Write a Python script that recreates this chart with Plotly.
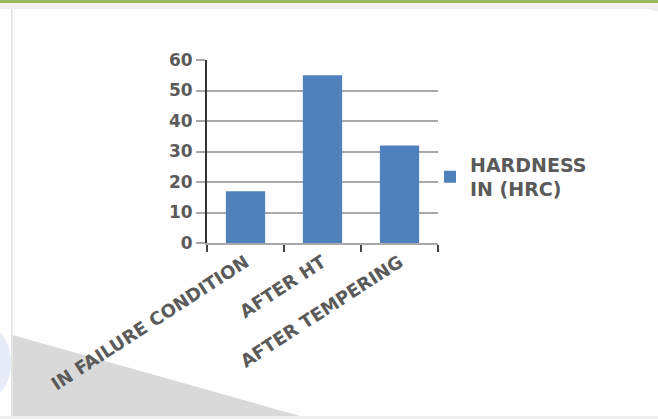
import plotly.graph_objects as go

categories = ["IN FAILURE CONDITION", "AFTER HT", "AFTER TEMPERING"]
hardness = [17, 55, 32]
series_name = "HARDNESS<br>IN (HRC)"
y_ticks = [0, 10, 20, 30, 40, 50, 60]

W, H = 658, 419
L, R, T, B = 207, 438, 60, 243

def px(x):
    return (x - L) / (R - L)

def py(y):
    return (B - y) / (B - T)

fig = go.Figure()
fig.add_trace(go.Bar(
    x=categories, y=hardness, name=series_name,
    marker=dict(color="#4f81bd", line=dict(width=0)),
    showlegend=True,
))

shapes = []
def rect(x0, y0, x1, y1, color):
    shapes.append(dict(type="rect", xref="paper", yref="paper",
                       x0=px(x0), x1=px(x1), y0=py(y0), y1=py(y1),
                       fillcolor=color, line=dict(width=0), layer="below"))

# page decoration
rect(0, 0, W, 3, "#9bbb59")
rect(0, 3, W, 9, "#efefef")
rect(652, 9, W, 11, "#efefef")
rect(11, 9, 12.5, H, "#e2e2e2")
rect(0, 416, W, H, "#eeeeee")
# faint blue circle on left edge
shapes.append(dict(type="circle", xref="paper", yref="paper",
                   x0=px(-25), x1=px(11), y0=py(330), y1=py(395),
                   fillcolor="#e8ebf8", line=dict(width=0), layer="below"))
# gray diagonal at bottom-left
path = "M {} {} L {} {} L {} {} Z".format(
    px(12.5), py(335), px(300), py(416), px(12.5), py(416))
shapes.append(dict(type="path", xref="paper", yref="paper", path=path,
                   fillcolor="#d9d9d9", line=dict(width=0), layer="below"))

fig.update_layout(
    width=W, height=H,
    margin=dict(l=L, r=W - R, t=T, b=H - B, pad=0),
    paper_bgcolor="white", plot_bgcolor="white",
    bargap=0.49,
    shapes=shapes,
    font=dict(family="DejaVu Sans", color="#5a5a5a"),
    xaxis=dict(
        type="category", tickangle=-33, tickson="boundaries",
        ticks="outside", ticklen=7, tickwidth=1.5, tickcolor="#444444",
        showline=True, linecolor="#a8a8a8", linewidth=2,
        showgrid=False,
        tickfont=dict(size=18, color="#5a5a5a", weight="bold"),
    ),
    yaxis=dict(
        range=[0, 60], tickvals=y_ticks, ticks="outside", ticklen=9,
        tickwidth=2, tickcolor="#a8a8a8",
        showline=True, linecolor="#333333", linewidth=2,
        showgrid=True, gridcolor="#a8a8a8", gridwidth=2,
        zeroline=False,
        tickfont=dict(size=17, color="#5a5a5a", weight="bold"),
    ),
    legend=dict(x=px(430), y=py(177), xanchor="left", yanchor="middle",
                font=dict(size=19, color="#5a5a5a", weight="bold"),
                bgcolor="rgba(0,0,0,0)", itemwidth=30, tracegroupgap=0),
)

fig.write_html("out.html")
